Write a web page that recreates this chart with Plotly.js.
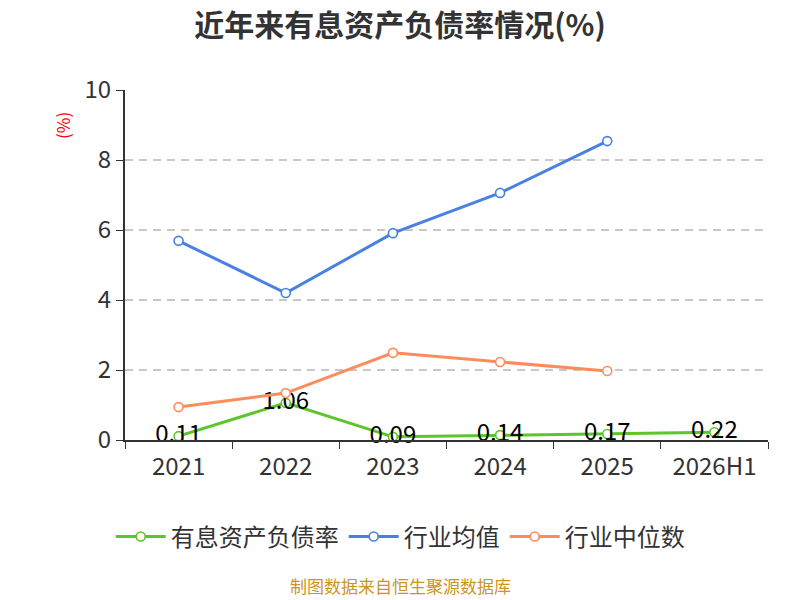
<!DOCTYPE html>
<html>
<head>
<meta charset="utf-8">
<script src="https://cdn.plot.ly/plotly-3.0.1.min.js"></script>
<style>
  html, body { margin: 0; padding: 0; background: #fff; }
  #chart { width: 800px; height: 600px; }
</style>
</head>
<body>
<div id="chart"></div>
<script>
const years = ['2021', '2022', '2023', '2024', '2025', '2026H1'];
const debtRatio = [0.11, 1.06, 0.09, 0.14, 0.17, 0.22];
const industryMean = [5.69, 4.2, 5.91, 7.06, 8.54];
const industryMedian = [0.94, 1.34, 2.49, 2.23, 1.97];

const font = '"Noto Sans CJK SC", "Noto Sans", sans-serif';

function lineTrace(name, x, y, color) {
    return {
        x: x,
        y: y,
        name: name,
        type: 'scatter',
        mode: 'lines+markers',
        line: { color: color, width: 3 },
        marker: { symbol: 'circle', size: 9, color: '#fff', line: { color: color, width: 1.6 } },
        cliponaxis: false,
    };
}

const ratioTrace = lineTrace('有息资产负债率', years, debtRatio, '#5cc52a');
ratioTrace.mode = 'lines+markers+text';
ratioTrace.text = debtRatio.map(v => v.toFixed(2));
ratioTrace.textposition = 'middle center';
ratioTrace.textfont = { family: font, size: 24, color: '#000' };

const meanTrace = lineTrace('行业均值', years.slice(0, 5), industryMean, '#4a80e2');
const medianTrace = lineTrace('行业中位数', years.slice(0, 5), industryMedian, '#fd8c5a');

const layout = {
    width: 800,
    height: 600,
    margin: { l: 125, r: 32, t: 90, b: 160 },
    paper_bgcolor: '#fff',
    plot_bgcolor: '#fff',
    font: { family: font, color: '#333' },
    title: {
        text: '<b>近年来有息资产负债率情况(%)</b>',
        font: { family: font, size: 30, color: '#333' },
        x: 0.5, xanchor: 'center',
        y: 0.958, yanchor: 'middle',
    },
    xaxis: {
        type: 'category',
        range: [-0.5, 5.5],
        tickson: 'boundaries',
        ticks: 'outside',
        ticklen: 7,
        tickcolor: '#333',
        ticklabelstandoff: 4,
        showline: true,
        linecolor: '#333',
        linewidth: 2,
        showgrid: false,
        tickfont: { family: font, size: 24, color: '#333' },
    },
    yaxis: {
        range: [0, 10],
        dtick: 2,
        ticks: 'outside',
        ticklen: 7,
        tickcolor: '#333',
        showline: true,
        linecolor: '#333',
        linewidth: 2,
        gridcolor: '#c8c8c8',
        griddash: '8px,6px',
        gridwidth: 1.5,
        zeroline: false,
        tickfont: { family: font, size: 24, color: '#333' },
    },
    showlegend: true,
    legend: {
        orientation: 'h',
        x: 0.428, xanchor: 'center',
        y: -0.277, yanchor: 'middle',
        font: { family: font, size: 24, color: '#333' },
        itemwidth: 50,
    },
    annotations: [
        {
            text: '(%)',
            xref: 'paper', yref: 'paper',
            x: -0.098, y: 0.9,
            xanchor: 'center', yanchor: 'middle',
            textangle: -90,
            showarrow: false,
            font: { family: font, size: 17, color: '#f00' },
        },
        {
            text: '制图数据来自恒生聚源数据库',
            xref: 'paper', yref: 'paper',
            x: 0.428, y: -0.415,
            xanchor: 'center', yanchor: 'middle',
            showarrow: false,
            font: { family: font, size: 17, color: '#c9961f' },
        },
    ],
};

Plotly.newPlot('chart', [ratioTrace, meanTrace, medianTrace], layout, { displayModeBar: false });
</script>
</body>
</html>
